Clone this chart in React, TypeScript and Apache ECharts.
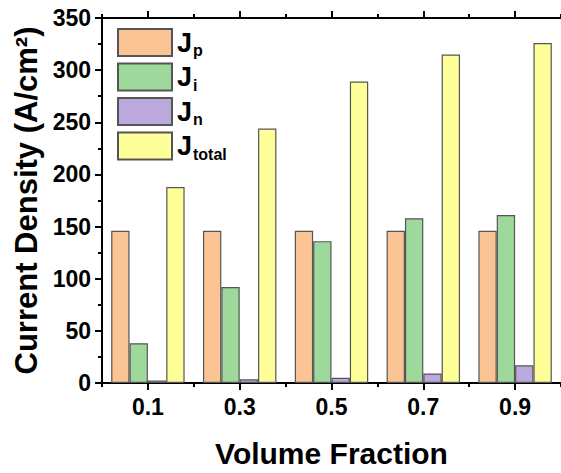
import React, { useEffect, useRef } from "react";
import * as echarts from "echarts";

const categories = ["0.1", "0.3", "0.5", "0.7", "0.9"];
const seriesNames = ["Jp", "Ji", "Jn", "Jtotal"];
const subscripts = ["p", "i", "n", "total"];
const jp = [146, 146, 146, 146, 146];
const ji = [38, 92, 136, 158, 161];
const jn = [2.5, 3.5, 5, 9, 17];
const jtotal = [188, 244, 289, 315, 326];
const colors = ["#FBC495", "#9ED89A", "#BBA8DC", "#FFFF99"];
const yTicks = [0, 50, 100, 150, 200, 250, 300, 350];

export default function App() {
  const ref = useRef<HTMLDivElement>(null);
  useEffect(() => {
    if (!ref.current) return;
    const chart = echarts.init(ref.current, undefined, { renderer: "svg" });
    const values = [jp, ji, jn, jtotal];
    const font = "'Liberation Sans', Arial, sans-serif";
    const baseAxis = (pos: string, show: boolean, major: boolean) => ({
      type: "category",
      data: categories,
      position: pos,
      gridIndex: 0,
      axisLine: { show: major, lineStyle: { color: "#000", width: 2 } },
      axisTick: {
        show: true,
        alignWithLabel: major,
        inside: false,
        length: major ? 7 : 4,
        lineStyle: { color: "#000", width: 2 },
      },
      axisLabel: show
        ? { show: true, fontSize: 23, fontWeight: "bold", color: "#000", fontFamily: font, margin: 12 }
        : { show: false },
      splitLine: { show: false },
    });
    const xBottom: any = {
      ...baseAxis("bottom", true, true),
      name: "Volume Fraction",
      nameLocation: "middle",
      nameGap: 55,
      nameTextStyle: { fontSize: 30, fontWeight: "bold", color: "#000", fontFamily: font },
    };
    chart.setOption({
      animation: false,
      backgroundColor: "#fff",
      grid: { left: 102, top: 18, right: -2, bottom: 85, containLabel: false },
      legend: {
        left: 112,
        top: 23,
        orient: "vertical",
        icon: "rect",
        itemWidth: 54,
        itemHeight: 27,
        itemGap: 4,
        data: seriesNames,
        formatter: (name: string) => {
          const i = seriesNames.indexOf(name);
          return "{J|J}{s|" + subscripts[i] + "}";
        },
        textStyle: {
          color: "#000",
          fontFamily: font,
          rich: {
            J: { fontSize: 27, fontWeight: "bold", fontFamily: font, color: "#000", lineHeight: 32 },
            s: {
              fontSize: 16,
              fontWeight: "bold",
              fontFamily: font,
              color: "#000",
              verticalAlign: "bottom",
              padding: [14, 0, 0, 1],
              lineHeight: 32,
            },
          },
        },
      },
      xAxis: [
        xBottom,
        baseAxis("bottom", false, false),
        baseAxis("top", false, true),
        baseAxis("top", false, false),
      ],
      yAxis: [
        {
          type: "value",
          min: 0,
          max: 350,
          interval: 50,
          position: "left",
          name: "Current Density (A/cm²)",
          nameLocation: "middle",
          nameGap: 54,
          nameTextStyle: { fontSize: 31, fontWeight: "bold", color: "#000", fontFamily: font },
          axisLine: { show: true, lineStyle: { color: "#000", width: 2 } },
          axisTick: { show: true, inside: false, length: 7, lineStyle: { color: "#000", width: 2 } },
          minorTick: { show: true, splitNumber: 2, length: 4, lineStyle: { color: "#000", width: 2 } },
          axisLabel: {
            fontSize: 23,
            fontWeight: "bold",
            color: "#000",
            fontFamily: font,
            margin: 11,
            formatter: (v: number) => (yTicks.includes(v) ? String(v) : ""),
          },
          splitLine: { show: false },
        },
      ],
      series: seriesNames.map((n, i) => ({
        name: n,
        type: "bar",
        xAxisIndex: 0,
        data: values[i],
        barGap: "0%",
        barCategoryGap: "20%",
        itemStyle: { color: colors[i], borderColor: "#555", borderWidth: 1.2 },
      })),
    });
    return () => chart.dispose();
  }, []);
  return (
    <div
      ref={ref}
      style={{ position: "absolute", left: 0, top: 0, width: 561, height: 473, background: "#fff" }}
    />
  );
}
